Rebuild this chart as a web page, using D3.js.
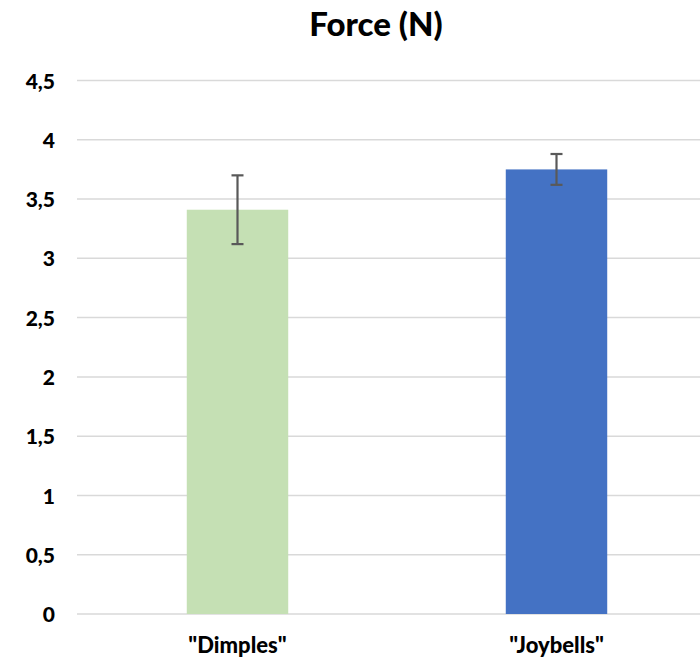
<!DOCTYPE html>
<html>
<head>
<meta charset="utf-8">
<script src="https://cdn.jsdelivr.net/npm/d3@7"></script>
<style>
  html, body { margin: 0; padding: 0; background: #fff; }
  svg { display: block; }
</style>
</head>
<body>
<svg id="chart" width="700" height="658"></svg>
<script>
// Data
const categories = ['"Dimples"', '"Joybells"'];
const means = [3.41, 3.75];
const errors = [0.29, 0.13];
const barColors = ["#c5e0b4", "#4472c4"];
const yTicks = [0, 0.5, 1, 1.5, 2, 2.5, 3, 3.5, 4, 4.5];
const title = "Force (N)";

const font = "Lato, 'Open Sans', sans-serif";
const svg = d3.select("#chart");

const x = d3.scaleBand()
  .domain(categories)
  .range([78, 716])
  .paddingInner(0.682)
  .paddingOuter(0.341);

const y = d3.scaleLinear()
  .domain([0, 4.5])
  .range([614, 80.5]);

const fmt = v => String(v).replace(".", ",");

// Gridlines
svg.append("g")
  .selectAll("line")
  .data(yTicks)
  .join("line")
  .attr("x1", 77)
  .attr("x2", 700)
  .attr("y1", d => y(d))
  .attr("y2", d => y(d))
  .attr("stroke", "#d9d9d9")
  .attr("stroke-width", 1.5);

// Y axis labels
const yAxis = svg.append("g")
  .attr("transform", "translate(55,0)")
  .call(d3.axisLeft(y).tickValues(yTicks).tickFormat(fmt).tickSize(0).tickPadding(0));
yAxis.select(".domain").remove();
yAxis.selectAll("text")
  .attr("font-family", font)
  .attr("font-weight", 900)
  .attr("font-size", 21)
  .attr("fill", "#000")
  .attr("dy", "0.36em");

// Bars
svg.append("g")
  .selectAll("rect")
  .data(categories)
  .join("rect")
  .attr("x", d => x(d))
  .attr("width", x.bandwidth())
  .attr("y", (d, i) => y(means[i]))
  .attr("height", (d, i) => y(0) - y(means[i]))
  .attr("fill", (d, i) => barColors[i]);

// Error bars
const eb = svg.append("g")
  .attr("stroke", "#595959")
  .attr("stroke-width", 2.2);
categories.forEach((c, i) => {
  const cx = x(c) + x.bandwidth() / 2;
  const hi = y(means[i] + errors[i]);
  const lo = y(means[i] - errors[i]);
  eb.append("line").attr("x1", cx).attr("x2", cx).attr("y1", hi).attr("y2", lo);
  eb.append("line").attr("x1", cx - 6).attr("x2", cx + 6).attr("y1", hi).attr("y2", hi);
  eb.append("line").attr("x1", cx - 6).attr("x2", cx + 6).attr("y1", lo).attr("y2", lo);
});

// X axis labels
const xAxis = svg.append("g")
  .attr("transform", "translate(0,653)")
  .call(d3.axisBottom(x).tickSize(0).tickPadding(0));
xAxis.select(".domain").remove();
xAxis.selectAll("text")
  .attr("font-family", font)
  .attr("font-weight", 900)
  .attr("font-size", 22)
  .attr("fill", "#000")
  .attr("dy", 0);

// Title
svg.append("text")
  .attr("x", 376)
  .attr("y", 36)
  .attr("text-anchor", "middle")
  .attr("font-family", font)
  .attr("font-weight", 900)
  .attr("font-size", 33)
  .attr("fill", "#000")
  .text(title);
</script>
</body>
</html>
